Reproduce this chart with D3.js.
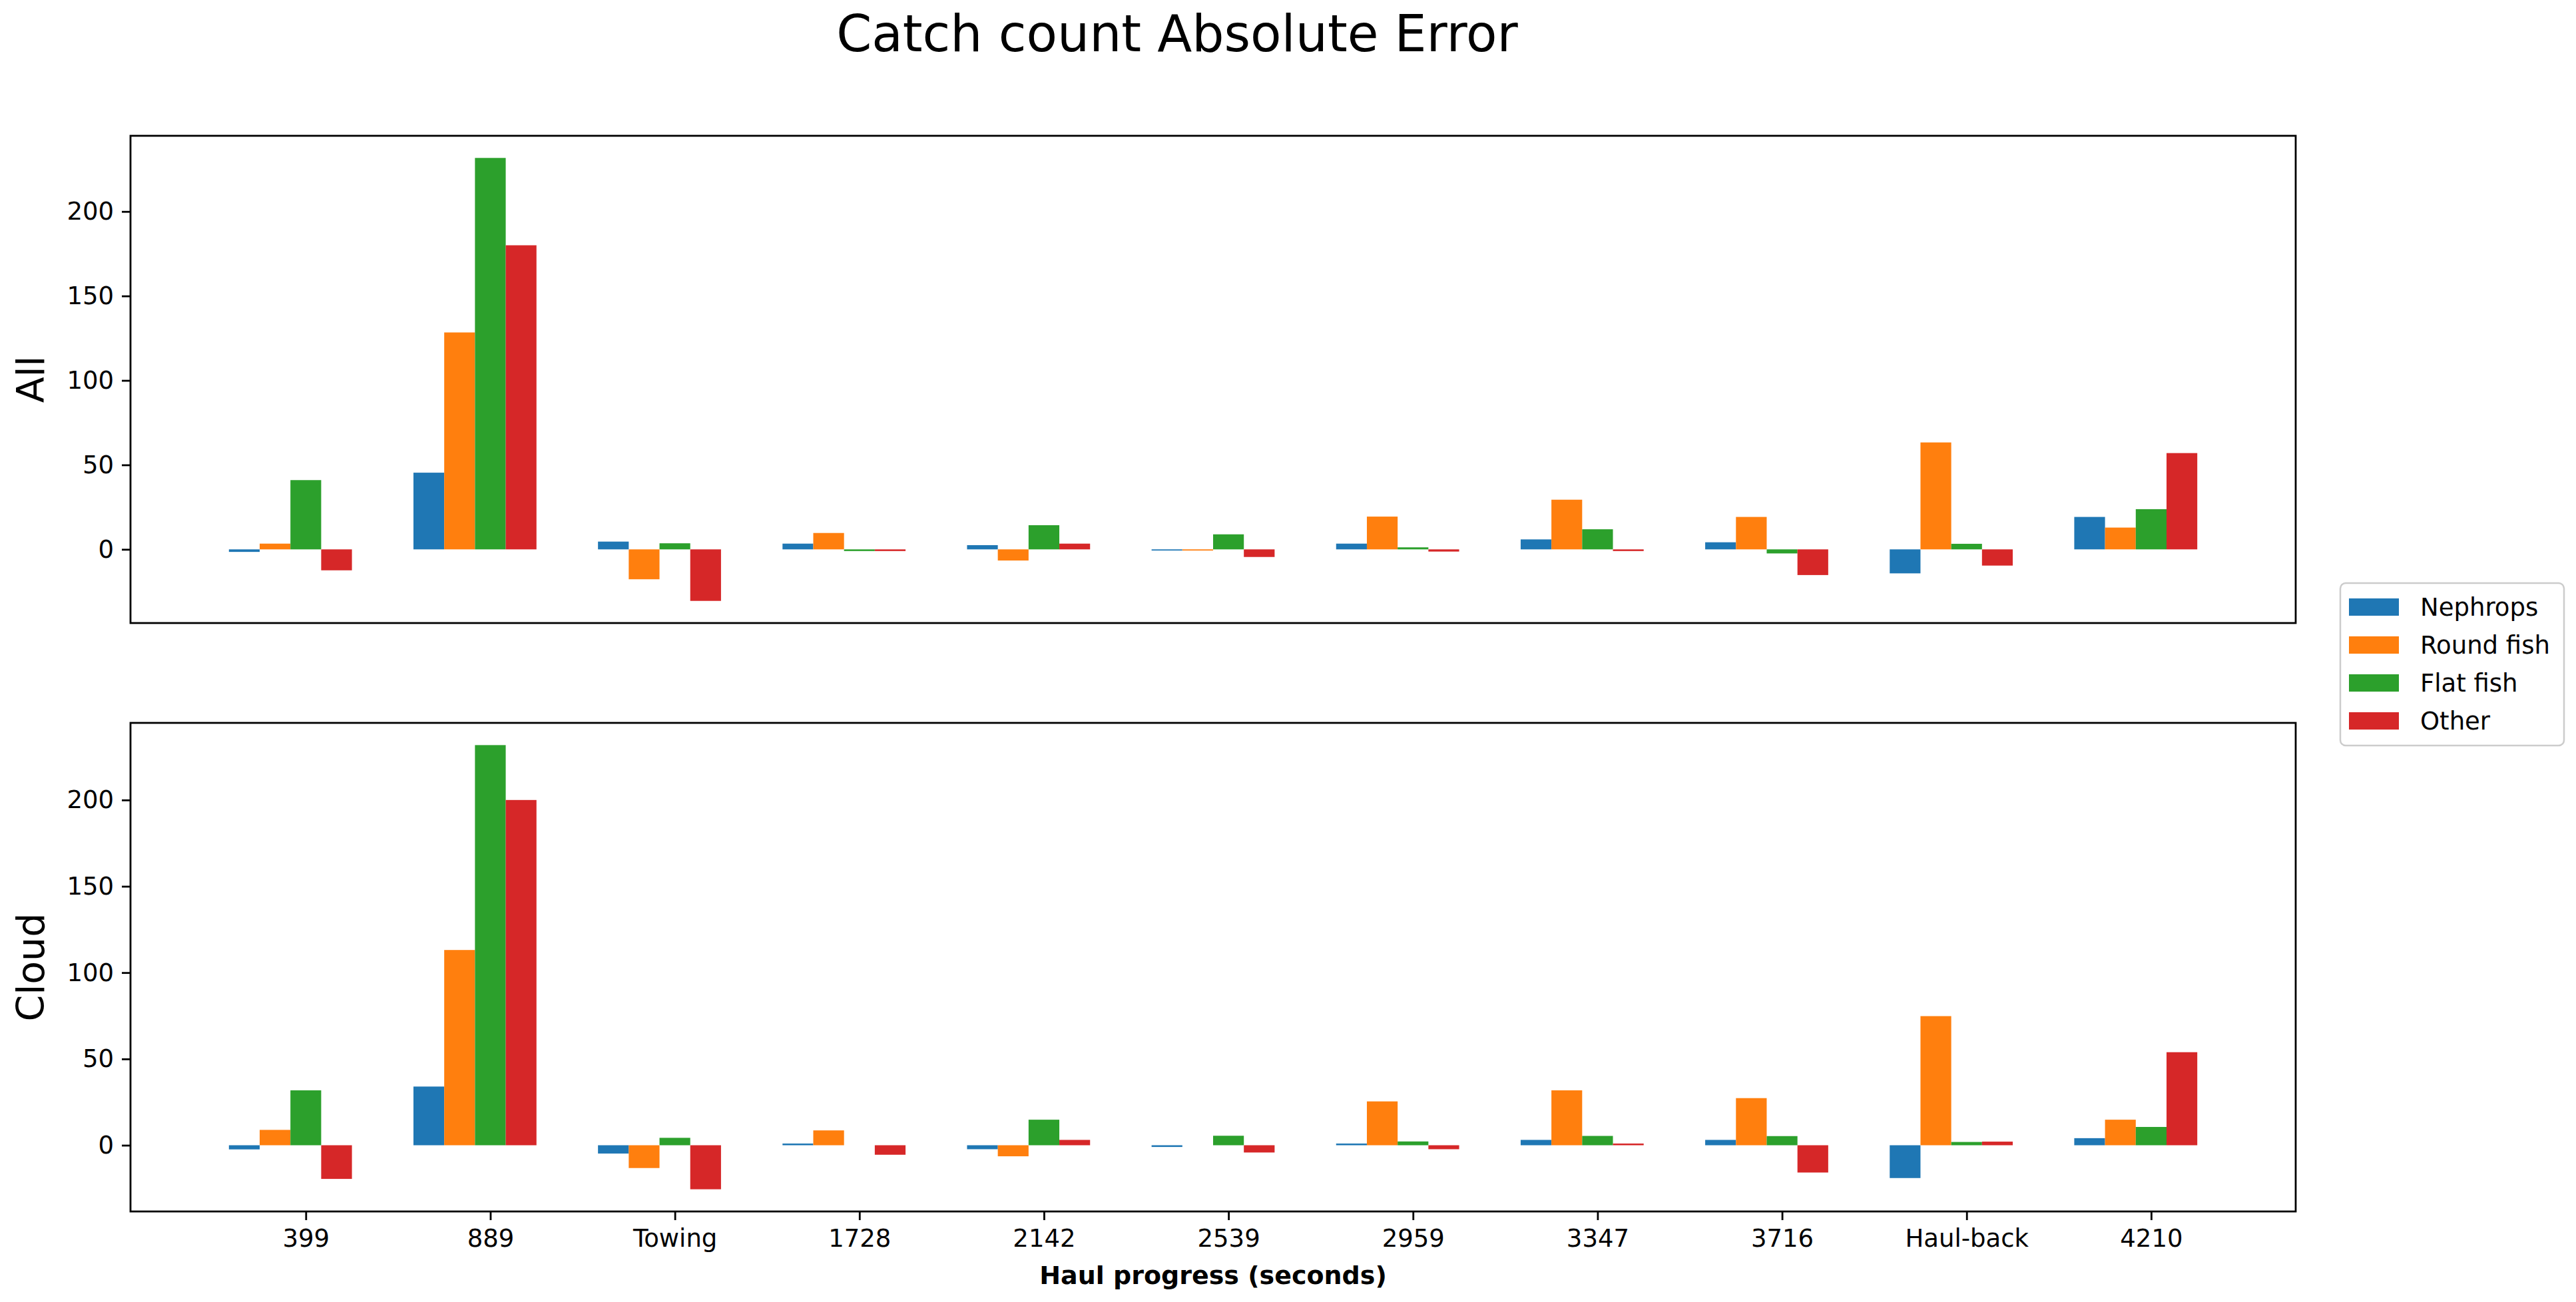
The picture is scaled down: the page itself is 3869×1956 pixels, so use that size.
<!DOCTYPE html>
<html>
<head>
<meta charset="utf-8">
<script src="https://cdn.jsdelivr.net/npm/d3@7"></script>
<style>
  html, body { margin: 0; padding: 0; background: #ffffff; }
  svg { display: block; }
  text { font-family: "DejaVu Sans", sans-serif; fill: #000; }
</style>
</head>
<body>
<svg id="chart" width="3869" height="1956"></svg>
<script>
// ---------------- data ----------------
const categories = ["399", "889", "Towing", "1728", "2142", "2539", "2959", "3347", "3716", "Haul-back", "4210"];
const seriesNames = ["Nephrops", "Round fish", "Flat fish", "Other"];
const seriesColors = ["#1f77b4", "#ff7f0e", "#2ca02c", "#d62728"];
const yTickValues = [0, 50, 100, 150, 200];

// Panel "All"
const allNephrops  = [-1.5, 45.4, 4.6, 3.4, 2.5, -0.7, 3.4, 5.9, 4.2, -14.2, 19.2];
const allRoundFish = [3.4, 128.4, -17.7, 9.7, -6.6, -0.7, 19.4, 29.4, 19.2, 63.3, 12.9];
const allFlatFish  = [41, 231.7, 3.6, -1, 14.3, 8.9, 1.2, 11.9, -2.4, 3.3, 23.8];
const allOther     = [-12.4, 180, -30.5, -1, 3.4, -4.5, -1.3, -1, -15.2, -9.6, 57];

// Panel "Cloud"
const cloudNephrops  = [-2.4, 34, -4.8, 1, -2.3, -1, 1, 3.1, 3.1, -19, 4.1];
const cloudRoundFish = [8.9, 113.1, -13.2, 8.6, -6.4, 0, 25.4, 31.8, 27.3, 74.8, 14.8];
const cloudFlatFish  = [31.8, 231.8, 4.3, 0, 14.8, 5.5, 2.2, 5.4, 5.3, 1.9, 10.6];
const cloudOther     = [-19.5, 200, -25.5, -5.5, 3.1, -4.2, -2.3, 1, -15.8, 2.1, 53.9];

const panels = [
  { label: "All",   series: [allNephrops, allRoundFish, allFlatFish, allOther] },
  { label: "Cloud", series: [cloudNephrops, cloudRoundFish, cloudFlatFish, cloudOther] }
];

// ---------------- layout ----------------
const svg = d3.select("#chart");
const plotLeft = 196, plotRight = 3448;
const panelBoxes = [ { top: 204, bottom: 936 }, { top: 1086, bottom: 1820 } ];
const barW = 1 / 6;           // bar width in category units
const n = categories.length;

// matplotlib-like 5% margins on the bar extents
const xLo = -2.5 * barW, xHi = (n - 1) + 1.5 * barW;
const xPad = 0.05 * (xHi - xLo);
const x = d3.scaleLinear().domain([xLo - xPad, xHi + xPad]).range([plotLeft, plotRight]);

panels.forEach((panel, pi) => {
  const box = panelBoxes[pi];
  const all = panel.series.flat();
  const mn = Math.min(0, d3.min(all)), mx = Math.max(0, d3.max(all));
  const yPad = 0.05 * (mx - mn);
  const y = d3.scaleLinear().domain([mn - yPad, mx + yPad]).range([box.bottom, box.top]);

  const g = svg.append("g");

  // bars
  panel.series.forEach((vals, si) => {
    g.append("g")
      .selectAll("rect")
      .data(vals)
      .join("rect")
      .attr("x", (d, i) => x(i + (si - 2) * barW - barW / 2))
      .attr("width", x(barW) - x(0))
      .attr("y", d => y(Math.max(0, d)))
      .attr("height", d => Math.abs(y(d) - y(0)))
      .attr("fill", seriesColors[si]);
  });

  // y axis
  const yAxis = d3.axisLeft(y).tickValues(yTickValues).tickSize(13).tickPadding(12);
  const ya = g.append("g").attr("transform", `translate(${plotLeft},0)`).call(yAxis);
  ya.select(".domain").remove();
  ya.selectAll(".tick line").attr("stroke", "#000").attr("stroke-width", 2.8);
  ya.selectAll(".tick text").attr("font-size", 37).attr("font-family", "DejaVu Sans").attr("fill", "#000");

  // x axis (only bottom panel shows ticks)
  if (pi === 1) {
    const xAxis = d3.axisBottom(x)
      .tickValues(d3.range(n))
      .tickFormat(i => categories[i])
      .tickSize(13).tickPadding(14);
    const xa = g.append("g").attr("transform", `translate(0,${box.bottom})`).call(xAxis);
    xa.select(".domain").remove();
    xa.selectAll(".tick line").attr("stroke", "#000").attr("stroke-width", 2.8);
    xa.selectAll(".tick text").attr("font-size", 37).attr("font-family", "DejaVu Sans").attr("fill", "#000");
  }

  // frame (spines)
  g.append("rect")
    .attr("x", plotLeft).attr("y", box.top)
    .attr("width", plotRight - plotLeft).attr("height", box.bottom - box.top)
    .attr("fill", "none").attr("stroke", "#000").attr("stroke-width", 2.8);

  // panel y label
  svg.append("text")
    .attr("transform", `translate(66,${(box.top + box.bottom) / 2}) rotate(-90)`)
    .attr("text-anchor", "middle")
    .attr("font-size", 57)
    .text(panel.label);
});

// title
svg.append("text")
  .attr("x", 1768).attr("y", 77)
  .attr("text-anchor", "middle")
  .attr("font-size", 76)
  .text("Catch count Absolute Error");

// x label
svg.append("text")
  .attr("x", (plotLeft + plotRight) / 2).attr("y", 1929)
  .attr("text-anchor", "middle")
  .attr("font-size", 38)
  .attr("font-weight", "bold")
  .text("Haul progress (seconds)");

// legend
const legend = svg.append("g");
legend.append("rect")
  .attr("x", 3515).attr("y", 876).attr("width", 336).attr("height", 244)
  .attr("rx", 8).attr("ry", 8)
  .attr("fill", "#fff").attr("fill-opacity", 0.8)
  .attr("stroke", "#cccccc").attr("stroke-width", 2.5);
const legItems = legend.selectAll("g.item").data(seriesNames).join("g").attr("class", "item")
  .attr("transform", (d, i) => `translate(3528,${899 + i * 57})`);
legItems.append("rect").attr("width", 75).attr("height", 26).attr("fill", (d, i) => seriesColors[i]);
legItems.append("text").attr("x", 107).attr("y", 13).attr("dy", "0.36em")
  .attr("font-size", 37).text(d => d);
</script>
</body>
</html>
